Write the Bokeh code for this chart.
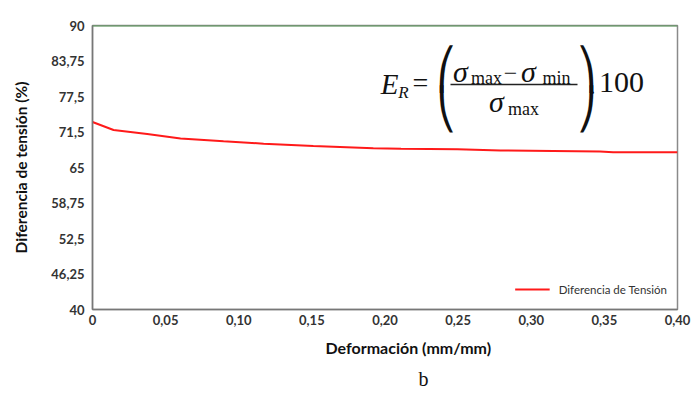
from bokeh.plotting import figure
from bokeh.models import FixedTicker, Label, Span, Title, Range1d, Legend, LegendItem
from bokeh.embed import file_html
from bokeh.resources import INLINE

# ---- data ----
deformacion = [0, 0.0144, 0.0374, 0.0602, 0.0896, 0.117, 0.151, 0.192, 0.211,
               0.2496, 0.279, 0.315, 0.347, 0.356, 0.40]
diferencia = [73.0, 71.6, 70.9, 70.1, 69.6, 69.2, 68.8, 68.4, 68.3,
              68.2, 68.0, 67.9, 67.8, 67.7, 67.7]
x_ticks = [0, 0.05, 0.10, 0.15, 0.20, 0.25, 0.30, 0.35, 0.40]
x_tick_labels = ["0", "0,05", "0,10", "0,15", "0,20", "0,25", "0,30", "0,35", "0,40"]
y_ticks = [40, 46.25, 52.5, 58.75, 65, 71.25, 77.5, 83.75, 90]
y_tick_labels = ["40", "46,25", "52,5", "58,75", "65", "71,5", "77,5", "83,75", "90"]
x_range = [0, 0.40]
y_range = [40, 90]
series_name = "Diferencia de Tensión"
x_title = "Deformación (mm/mm)"
y_title = "Diferencia de tensión (%)"
caption = "b"

FONT = "Lato"
SERIF = "Liberation Serif"

p = figure(width=700, height=399, output_backend="svg", toolbar_location=None,
           x_range=Range1d(*x_range), y_range=Range1d(*y_range),
           min_border_left=92, min_border_right=23, min_border_top=25, min_border_bottom=90)
p.grid.visible = False
p.outline_line_color = "#8a8a8a"
p.outline_line_width = 1.5

# axes
p.xaxis.ticker = FixedTicker(ticks=x_ticks)
p.xaxis.major_label_overrides = {t: l for t, l in zip(x_ticks, x_tick_labels)}
p.yaxis.ticker = FixedTicker(ticks=y_ticks)
p.yaxis.major_label_overrides = {t: l for t, l in zip(y_ticks, y_tick_labels)}
for ax in (p.xaxis, p.yaxis):
    ax.major_tick_line_color = None
    ax.minor_tick_line_color = None
    ax.major_tick_out = 0
    ax.major_tick_in = 0
    ax.minor_tick_out = 0
    ax.axis_line_color = "#777777"
    ax.axis_line_width = 1.5
    ax.major_label_text_font = FONT
    ax.major_label_text_font_style = "bold"
    ax.major_label_text_font_size = "13px"
    ax.major_label_text_color = "#333333"
    ax.axis_label_text_font = FONT
    ax.axis_label_text_font_style = "bold"
    ax.axis_label_text_color = "#111111"
p.xaxis.major_label_standoff = 5
p.yaxis.major_label_standoff = 8
p.yaxis.axis_label = y_title
p.yaxis.axis_label_text_font_size = "15.5px"
p.yaxis.axis_label_standoff = 18

# x title and caption below, positioned like the reference
p.add_layout(Title(text=x_title, align="left", offset=233, text_font=FONT,
                   text_font_style="bold", text_font_size="16px", text_color="#111111",
                   standoff=16), "below")
p.add_layout(Title(text=caption, align="left", offset=326, text_font=SERIF,
                   text_font_size="20px", text_font_style="normal", text_color="#111111",
                   standoff=2), "below")

# top green border line at maximum
p.add_layout(Span(location=y_range[1], dimension="width", line_color="#5b9b5b", line_width=2))

r = p.line(deformacion, diferencia, line_color="#ff1a1a", line_width=2)
legend = Legend(items=[LegendItem(label=series_name, renderers=[r])],
                location="bottom_right", border_line_color=None, background_fill_alpha=0,
                glyph_width=35, label_text_font=FONT, label_text_font_size="11.5px",
                label_text_color="#333333", margin=10, padding=6, label_standoff=9)
p.add_layout(legend)

# ---- formula (positions given in reference pixels, converted to data units) ----
def px(x):
    return (x - 92) / 585 * (x_range[1] - x_range[0]) + x_range[0]

def py(y):
    return y_range[1] - (y - 25) / 284 * (y_range[1] - y_range[0])

def lab(text, x, y, size, style="normal", align="center", font=SERIF):
    p.add_layout(Label(x=px(x), y=py(y), text=text, text_font=font, text_font_size=size,
                       text_font_style=style, text_align=align, text_baseline="middle",
                       text_color="#111111"))

lab("E", 389, 83, "29px", "italic")
lab("R", 403, 92, "17px", "italic")
lab("=", 420, 82, "28px")
lab("⎛", 446, 68, "40px", font="DejaVu Sans")
lab("⎝", 446, 108, "40px", font="DejaVu Sans")
lab("σ", 460, 71, "30px", "italic")
lab("max", 486, 77, "18px")
lab("−", 510, 73, "24px")
lab("σ", 528, 71, "30px", "italic")
lab("min", 556, 77, "18px")
p.segment(x0=[px(450)], y0=[py(84)], x1=[px(577)], y1=[py(84)], line_color="#222222", line_width=1.5)
lab("σ", 496, 101, "30px", "italic")
lab("max", 523, 108, "18px")
lab("⎞", 586, 68, "40px", font="DejaVu Sans")
lab("⎠", 586, 108, "40px", font="DejaVu Sans")
lab(".", 592, 86, "24px")
lab("100", 621, 82, "30px")

open("out.html", "w").write(file_html(p, INLINE))
